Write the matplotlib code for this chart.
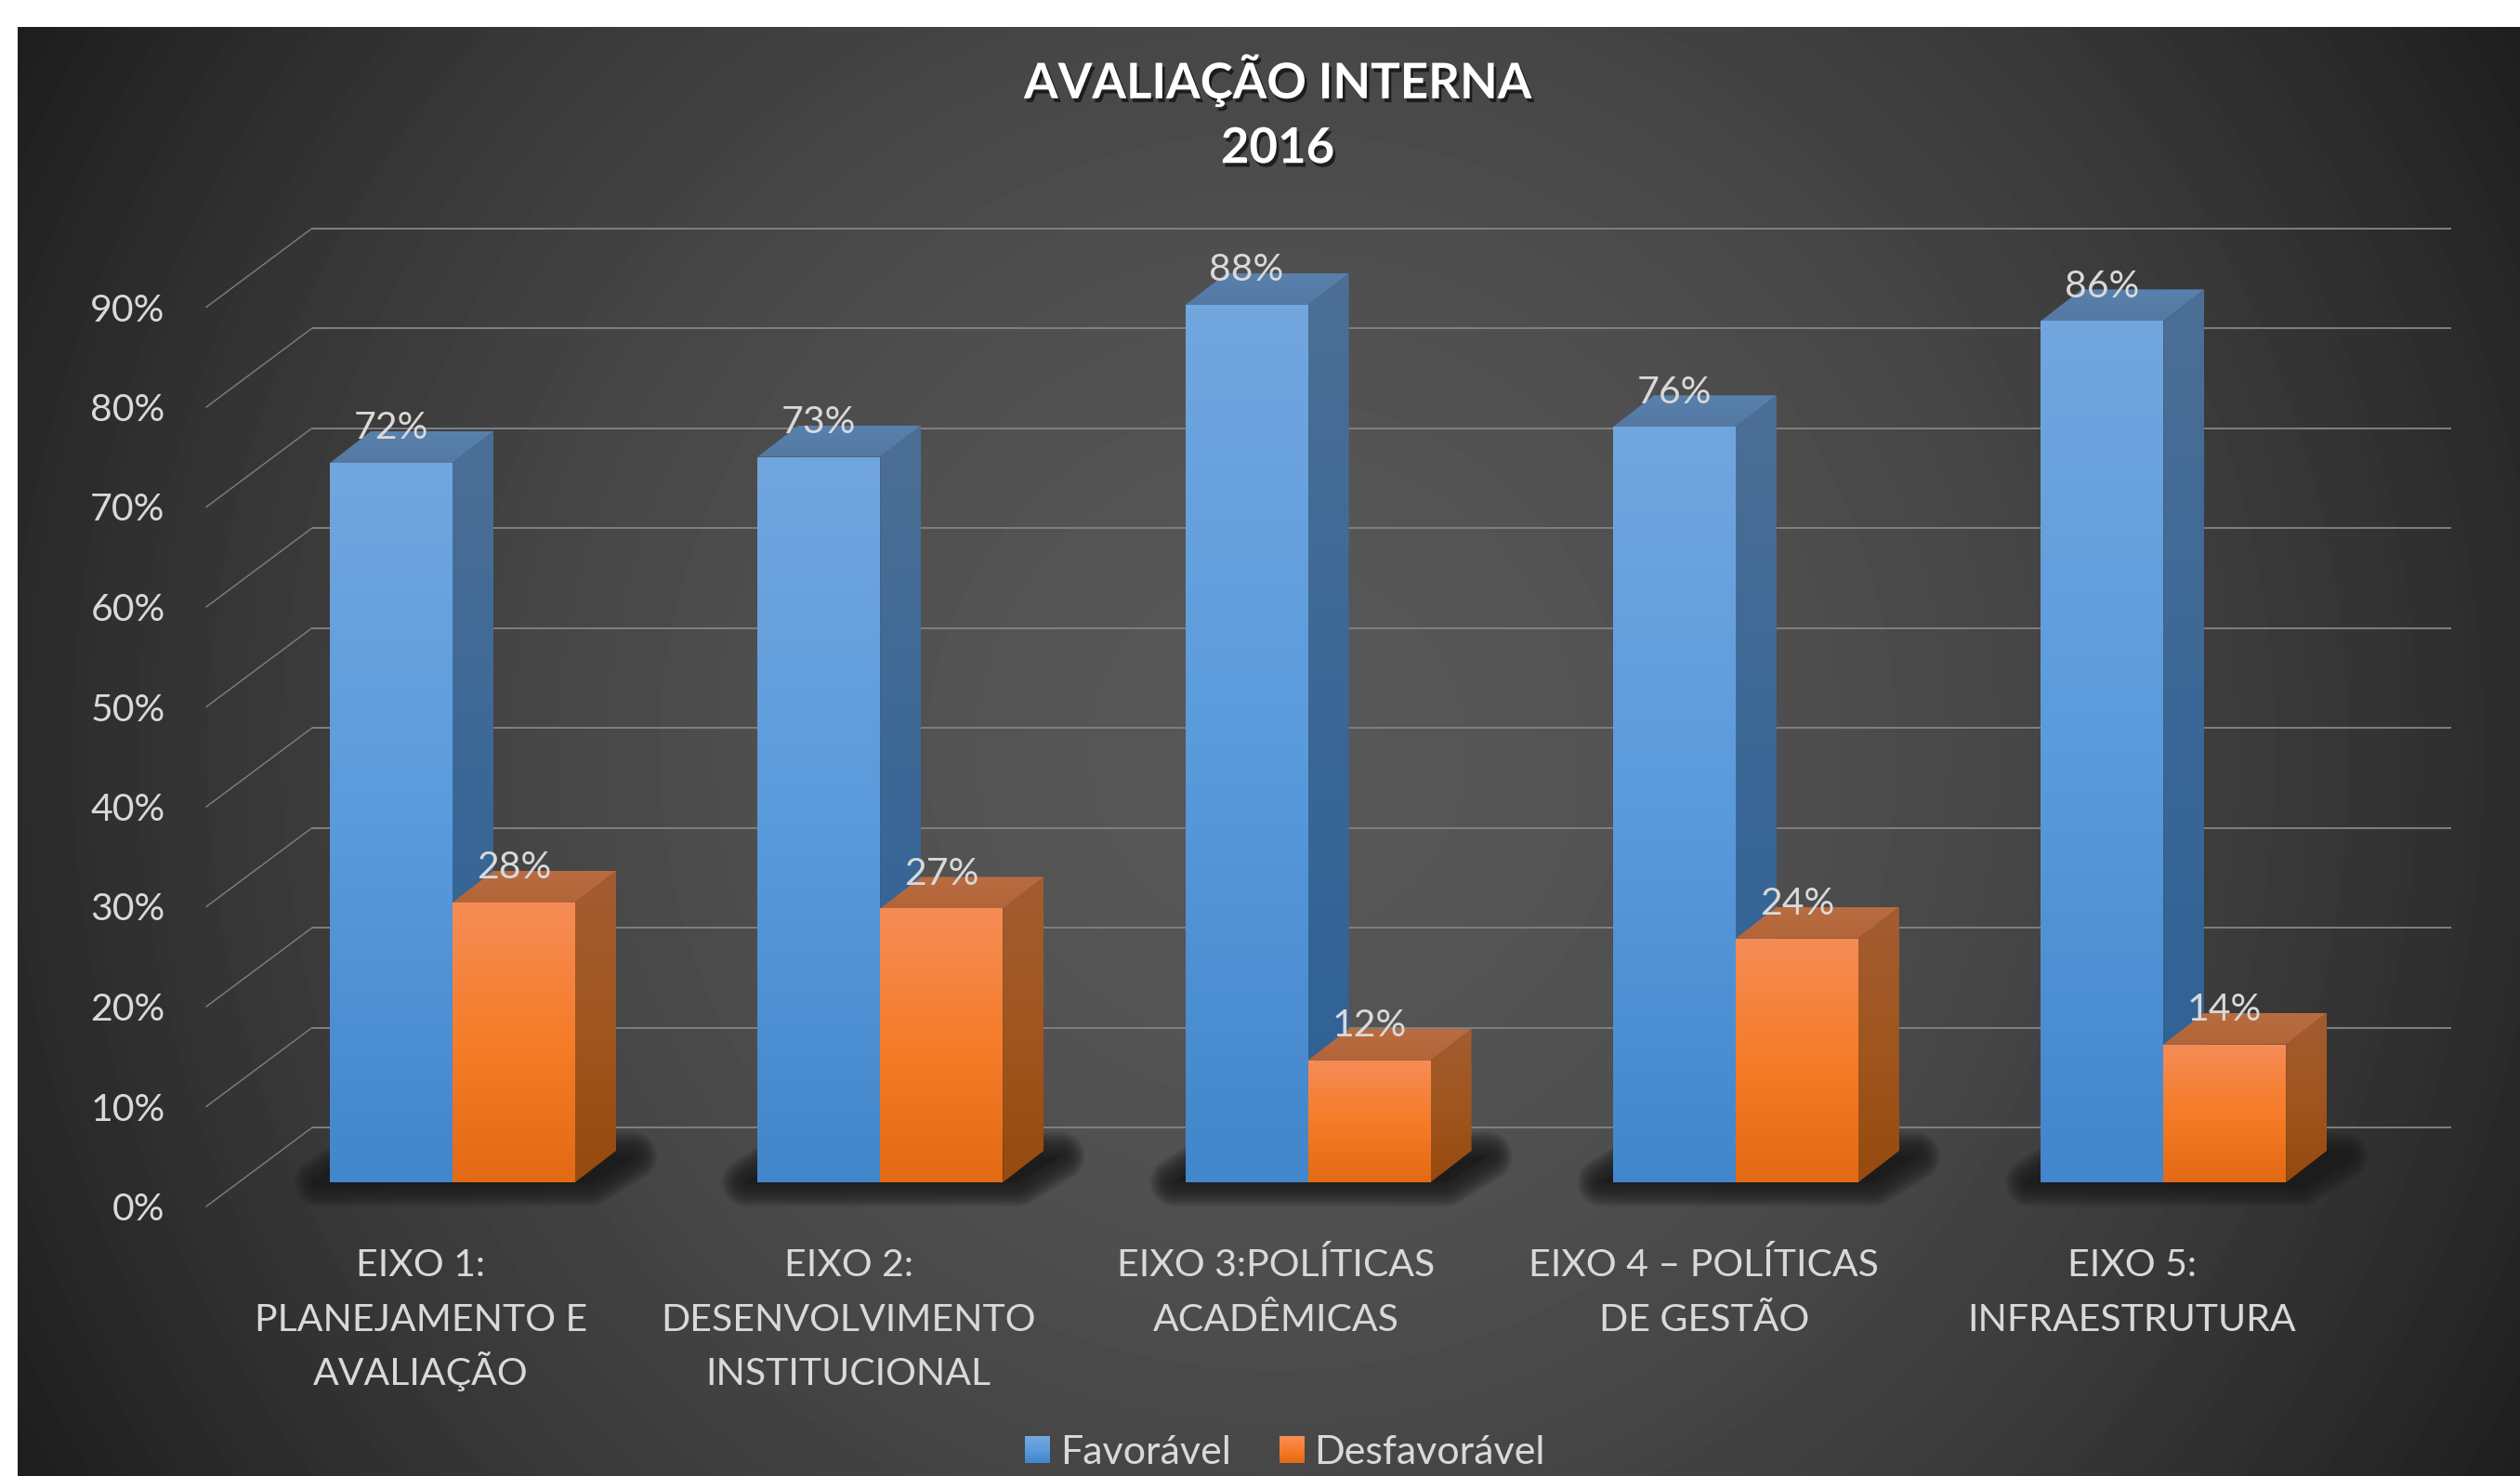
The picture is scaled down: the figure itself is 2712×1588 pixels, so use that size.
import numpy as np
import matplotlib
matplotlib.use('Agg')
import matplotlib.pyplot as plt
import matplotlib.patheffects as pe
from matplotlib.colors import LinearSegmentedColormap
from matplotlib.legend_handler import HandlerBase
from matplotlib.patches import Polygon, Rectangle

plt.rcParams['font.family'] = ['Lato', 'DejaVu Sans']

# data
categories = [['EIXO 1:', 'PLANEJAMENTO E', 'AVALIAÇÃO'],
              ['EIXO 2:', 'DESENVOLVIMENTO', 'INSTITUCIONAL'],
              ['EIXO 3:POLÍTICAS', 'ACADÊMICAS'],
              ['EIXO 4 – POLÍTICAS', 'DE GESTÃO'],
              ['EIXO 5:', 'INFRAESTRUTURA']]
favoravel = [72, 72.6, 87.8, 75.6, 86.2]
desfavoravel = [28, 27.4, 12.2, 24.4, 13.8]
y_ticks = [0, 10, 20, 30, 40, 50, 60, 70, 80, 90]
series_names = ['Favorável', 'Desfavorável']
title_lines = 'AVALIAÇÃO INTERNA\n2016'

# pixel sizes of one data unit
W, H = 2712, 1588
UX = 460.3
UY = 10.75
X0 = 487.0
Y0 = 1272.0
TXT = '#d9d9d9'

blue_front = ['#72a6df', '#5a9bdc', '#4286cb']
blue_side = ['#4c6f95', '#3a6797', '#2d6196']
blue_top = ['#5881ad', '#5479a3']
orange_front = ['#f58c56', '#f67c28', '#e36a15']
orange_side = ['#a35c32', '#a0561f', '#964a0e']
orange_top = ['#b96c40', '#b3653a']


def dx(px):
    return px / UX


def dy(px):
    return px / UY


fig = plt.figure(figsize=(W / 100, H / 100), dpi=100, facecolor='white')
ax = fig.add_axes([0, 0, 1, 1])
ax.axis('off')
xlim = (-X0 / UX, (W - X0) / UX)
ylim = ((Y0 - H) / UY, Y0 / UY)

# background panel
yy, xx = np.mgrid[0:H, 0:W]
r = np.hypot(xx - 1375, yy - 808) / 1548
v = 87 - 57 * np.clip(r, 0, 1) ** 1.8
v = np.round(v) / 255
bg = ax.imshow(v, cmap='gray', vmin=0, vmax=1, extent=(*xlim, ylim[0], ylim[1]),
               origin='upper', aspect='auto', zorder=0)
panel = Rectangle((xlim[0] + dx(19), ylim[0]), dx(W - 19), ylim[1] - ylim[0] - dy(29),
                  transform=ax.transData)
bg.set_clip_path(panel)


def gradient(patch, colors, zorder):
    cmap = LinearSegmentedColormap.from_list('g', colors)
    bb = patch.get_path().get_extents(patch.get_patch_transform() + patch.get_data_transform()
                                      - ax.transData)
    im = ax.imshow(np.linspace(0, 1, 256)[:, None], cmap=cmap, aspect='auto', origin='upper',
                   extent=(bb.x0, bb.x1, bb.y0, bb.y1), zorder=zorder)
    im.set_clip_path(patch)
    return im


# walls, gridlines
wall_x_front = xlim[0] + dx(222)
wall_x_back = xlim[0] + dx(336)
wall_x_end = xlim[0] + dx(2638)
front_off = dy(-26)
back_off = dy(59)
for t in y_ticks:
    ax.plot([wall_x_back, wall_x_end], [t + back_off, t + back_off], color='#808080', lw=1.4,
            zorder=1, solid_capstyle='butt')
    ax.plot([wall_x_front, wall_x_back], [t + front_off, t + back_off], color='#808080', lw=1.0,
            zorder=1)
    ax.annotate(f'{t}%', (wall_x_front, t + front_off), xytext=(-32, 0), textcoords='offset points',
                ha='right', va='center_baseline', color=TXT, fontsize=29.5, zorder=8)

x = np.arange(len(categories))
bw = dx(132)
bar_dx = dx(44)
bar_dy = dy(34)

# floor shadows
for c in x:
    l, rr = c - bw - dx(12), c + bw + dx(16)
    pts = [(l, dy(0)), (rr, dy(0)), (rr + dx(46), dy(28)), (l + dx(46), dy(28))]
    for lw in np.arange(38, 0, -2):
        ax.add_patch(Polygon(pts, closed=True, fc='none', ec='#1c1c1c', lw=lw, alpha=0.09,
                             joinstyle='round', zorder=2))
    ax.add_patch(Polygon(pts, closed=True, fc='#1c1c1c', ec='none', zorder=2))

# bars
fav_bars = ax.bar(x - bw / 2, favoravel, bw, color='none', zorder=4)
des_bars = ax.bar(x + bw / 2, desfavoravel, bw, color='none', zorder=7)


def draw_3d(rect, front, side, top, z):
    x0, x1 = rect.get_x(), rect.get_x() + rect.get_width()
    h = rect.get_height()
    side_poly = Polygon([(x1, 0), (x1 + bar_dx, bar_dy), (x1 + bar_dx, h + bar_dy), (x1, h)],
                        closed=True, fc='none', ec='none')
    top_poly = Polygon([(x0, h), (x1, h), (x1 + bar_dx, h + bar_dy), (x0 + bar_dx, h + bar_dy)],
                       closed=True, fc='none', ec='none')
    ax.add_patch(side_poly)
    ax.add_patch(top_poly)
    gradient(side_poly, side, z)
    gradient(top_poly, top, z)
    gradient(rect, front, z + 0.1)


for rect in fav_bars:
    draw_3d(rect, blue_front, blue_side, blue_top, 4)
for rect in des_bars:
    draw_3d(rect, orange_front, orange_side, orange_top, 6)

# value labels
for rect, val in list(zip(fav_bars, favoravel)) + list(zip(des_bars, desfavoravel)):
    ax.annotate(f'{round(val)}%', (rect.get_x() + rect.get_width() / 2, val), xytext=(0, 18.5),
                textcoords='offset points', ha='center', va='baseline', color=TXT, fontsize=29.5,
                zorder=9)

# category labels, one line at a time so the spacing stays even
for c, lines in zip(x, categories):
    for i, line in enumerate(lines):
        ax.annotate(line, (c, 0), xytext=(-24.5, -72.8 - 42.2 * i), textcoords='offset points',
                    ha='center', va='baseline', color=TXT, fontsize=29.5, zorder=8)

# title
t = ax.text(xlim[0] + dx(1375), ylim[1] - dy(121), title_lines, ha='center', va='center',
            multialignment='center', color='white', fontsize=38, fontweight='bold',
            linespacing=1.5, zorder=9)
t.set_path_effects([pe.withSimplePatchShadow(offset=(2, -3), shadow_rgbFace='black', alpha=0.6)])


# legend with gradient swatches
class StripHandler(HandlerBase):
    def __init__(self, colors):
        super().__init__()
        self.cmap = LinearSegmentedColormap.from_list('s', colors)

    def create_artists(self, legend, orig_handle, xdescent, ydescent, width, height, fontsize, trans):
        n = 16
        out = []
        for i in range(n):
            out.append(Rectangle((-xdescent, -ydescent + height * i / n), width, height / n + 0.3,
                                 fc=self.cmap(1 - i / (n - 1)), ec='none', transform=trans))
        return out


h1 = Rectangle((0, 0), 1, 1)
h2 = Rectangle((0, 0), 1, 1)
leg = ax.legend([h1, h2], series_names, loc='center', bbox_to_anchor=(1383 / W, 1 - 1563 / H),
                ncol=2, frameon=False, fontsize=31, handlelength=0.63, handleheight=0.63,
                handletextpad=0.25, columnspacing=1.2, labelcolor=TXT,
                handler_map={h1: StripHandler(blue_front), h2: StripHandler(orange_front)})
leg.set_zorder(10)

ax.set_xlim(xlim)
ax.set_ylim(ylim)
fig.savefig('out.png', dpi=100, facecolor='white')
